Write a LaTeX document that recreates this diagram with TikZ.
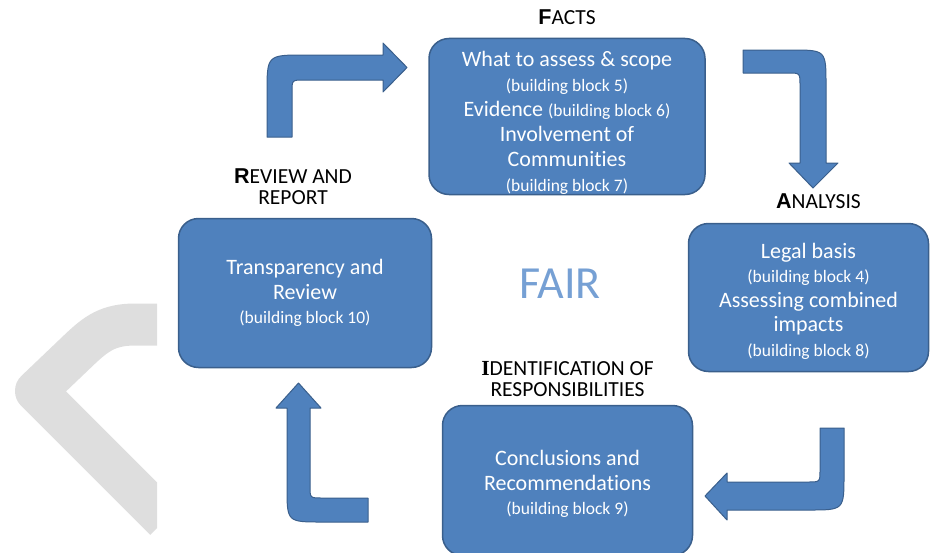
\documentclass[tikz,border=0pt]{standalone}
\usepackage{fontspec}
\setmainfont[Ligatures=NoCommon]{Carlito}
\newfontfamily\initsans{Liberation Sans}
\newfontfamily\initserif{Liberation Serif}
\usetikzlibrary{positioning}

\definecolor{boxfill}{HTML}{4F81BD}
\definecolor{boxedge}{HTML}{3A5F8C}
\definecolor{fairblue}{HTML}{76A0D4}
\definecolor{wmgrey}{HTML}{DEDEDE}

\newcommand{\bblock}[1]{{\fontsize{17.5}{24}\selectfont (building block #1)}}
\newcommand{\topgap}[1]{\rule{0pt}{#1}}

\begin{document}
\begin{tikzpicture}[%
    x=1pt, y=-1pt,              % work in points, y pointing down
    every node/.style={inner sep=0pt},
    ]
% -------------------------------------------------
% Box, label and arrow styles
\tikzset{
  box/.style={draw=boxedge, fill=boxfill, line width=1.5pt, rounded corners=20pt,
    text=white, align=center, font={\fontsize{22}{24.5}\selectfont}},
  lbl/.style={align=center, font={\fontsize{21.5}{21}\selectfont}},
  barrow/.style={draw=boxedge, fill=boxfill, line width=1pt, line join=round},
  wmark/.style={draw=wmgrey, line width=42pt, line join=round}
}
\useasboundingbox (0,0) rectangle (931,552);

% -------------------------------------------------
% Grey watermark on the left
\begin{scope}
  \clip (0,0) rectangle (157,552);
  \draw [wmark] (165,324.5) -- (135,324.5)
    .. controls (108,324.5) and (96,334) .. (80,349) -- (36,391) -- (165,520);
\end{scope}

% -------------------------------------------------
% The four boxes
\node [box, minimum width=276pt, minimum height=151pt,
  font={\fontsize{22}{25}\selectfont}] (facts) at (567,116.5)
  {\topgap{28pt}What to assess \& scope\\ \bblock{5}\\ Evidence \bblock{6}\\
   Involvement of\\ Communities\\ \bblock{7}};
\node [box, minimum width=240pt, minimum height=148pt] (analysis) at (808.5,297.5)
  {\topgap{22.5pt}Legal basis\\ \bblock{4}\\ Assessing combined\\ impacts\\ \bblock{8}};
\node [box, minimum width=250pt, minimum height=150pt] (ident) at (567.5,480.5)
  {\topgap{22.5pt}Conclusions and\\ Recommendations\\ \bblock{9}};
\node [box, minimum width=253pt, minimum height=149pt] (review) at (305,293)
  {Transparency and\\ Review\\ \bblock{10}};

% Labels above the boxes
\node [lbl, above=13pt of facts] (factslbl) {{\initsans\bfseries F}ACTS};
\node [lbl, above=14pt of analysis, xshift=10pt] (analysislbl)
  {{\initsans\bfseries A}NALYSIS};
\node [lbl, above=8pt of ident] (identlbl)
  {{\initserif\bfseries I}DENTIFICATION OF\\ RESPONSIBILITIES};
\node [lbl, above=13pt of review, xshift=-12pt] (reviewlbl)
  {{\initsans\bfseries R}EVIEW AND\\ REPORT};

\node [text=fairblue, font={\fontsize{46}{50}\selectfont}] (fair) at (560,284) {FAIR};

% -------------------------------------------------
% Bent block arrows, clockwise
\filldraw [barrow] (267,137) -- (267,93) .. controls (267,55) .. (305,55)
  -- (383,55) -- (383,43) -- (407,67.5) -- (383,92) -- (383,80)
  -- (304,80) .. controls (292,80) .. (292,92) -- (292,137) -- cycle;
\filldraw [barrow] (743,50) -- (791,50) .. controls (826,50) .. (826,85)
  -- (826,163) -- (838,163) -- (813,188) -- (789,163) -- (800,163)
  -- (800,85) .. controls (800,73) .. (788,73) -- (743,73) -- cycle;
\filldraw [barrow] (820,428) -- (844,428) -- (844,475) .. controls (844,510) .. (809,510)
  -- (727,510) -- (727,520) -- (705,496) -- (727,473) -- (727,482)
  -- (808,482) .. controls (820,482) .. (820,470) -- cycle;
\filldraw [barrow] (368,498) -- (322,498) .. controls (310,498) .. (310,486)
  -- (310,408) -- (321,408) -- (298.5,383) -- (276,408) -- (287,408)
  -- (287,487) .. controls (287,522) .. (322,522) -- (368,522) -- cycle;

% -------------------------------------------------
\end{tikzpicture}
\end{document}
